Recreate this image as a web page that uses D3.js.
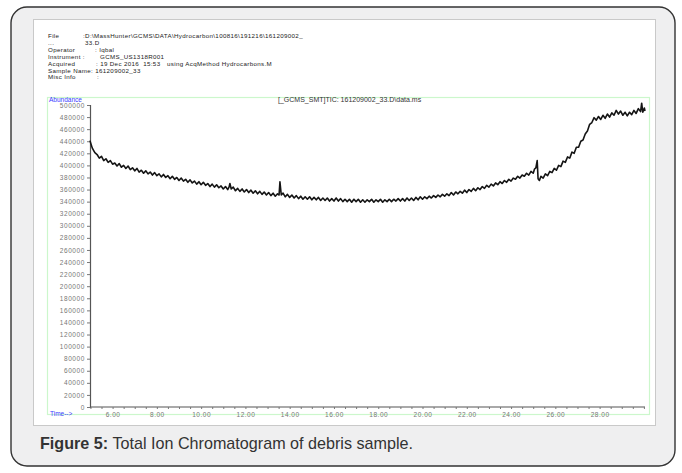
<!DOCTYPE html>
<html>
<head>
<meta charset="utf-8">
<script src="https://cdn.jsdelivr.net/npm/d3@7"></script>
<style>
  body{margin:0;background:#fff;}
  svg{display:block;font-family:"Liberation Sans",Arial,sans-serif;}
</style>
</head>
<body>
<svg id="tic" width="682" height="473"></svg>
<script>
// retention time (min)
var times=[4.98,5.02,5.08,5.14,5.20,5.30,5.40,5.50,5.60,5.70,5.80,5.90,6.00,6.10,6.20,6.30,6.40,6.50,6.60,6.70,6.80,6.90,
  7.00,7.10,7.20,7.30,7.40,7.50,7.60,7.70,7.80,7.90,8.00,8.10,8.20,8.30,8.40,8.50,8.60,8.70,8.80,8.90,
  9.00,9.10,9.20,9.30,9.40,9.50,9.60,9.70,9.80,9.90,10.00,10.10,10.20,10.30,10.40,10.50,10.60,10.70,10.80,10.90,
  11.00,11.10,11.20,11.26,11.30,11.36,11.45,11.55,11.65,11.75,11.85,11.95,12.05,12.15,12.25,12.35,12.45,12.55,12.65,12.75,12.85,12.95,
  13.05,13.15,13.25,13.35,13.45,13.52,13.56,13.62,13.70,13.80,13.90,14.00,14.10,14.20,14.30,14.40,14.50,14.60,14.70,14.80,14.90,
  15.00,15.10,15.20,15.30,15.40,15.50,15.60,15.70,15.80,15.90,16.00,16.10,16.20,16.30,16.40,16.50,16.60,16.70,16.80,16.90,
  17.00,17.10,17.20,17.30,17.40,17.50,17.60,17.70,17.80,17.90,18.00,18.10,18.20,18.30,18.40,18.50,18.60,18.70,18.80,18.90,
  19.00,19.10,19.20,19.30,19.40,19.50,19.60,19.70,19.80,19.90,20.00,20.10,20.20,20.30,20.40,20.50,20.60,20.70,20.80,20.90,
  21.00,21.10,21.20,21.30,21.40,21.50,21.60,21.70,21.80,21.90,22.00,22.10,22.20,22.30,22.40,22.50,22.60,22.70,22.80,22.90,
  23.00,23.10,23.20,23.30,23.40,23.50,23.60,23.70,23.80,23.90,24.00,24.10,24.20,24.30,24.40,24.50,24.60,24.70,24.80,24.90,
  25.00,25.06,25.12,25.18,25.22,25.28,25.35,25.45,25.55,25.65,25.75,25.85,25.95,26.05,26.15,26.25,26.35,26.45,26.55,26.65,26.75,26.85,26.95,
  27.05,27.15,27.25,27.35,27.45,27.55,27.65,27.75,27.85,27.95,28.05,28.15,28.25,28.35,28.45,28.55,28.65,28.75,28.85,28.95,
  29.05,29.15,29.25,29.35,29.45,29.55,29.65,29.75,29.85,29.90,29.95,30.02,30.05];

// abundance in thousands, same order as times
var abundanceK=[441,436,429,425,421,418,412,415,408,411,405,408,402,404,399,403,397,400,395,399,393,396,
  391,395,389,392,387,391,386,389,384,388,383,386,381,385,380,383,378,382,377,380,
  375,379,374,377,372,376,371,374,369,373,368,372,367,370,365,369,364,368,363,366,
  361,365,360,364,370,361,364,358,362,357,361,356,360,355,359,354,358,353,357,352,356,351,
  355,350,354,349,353,351,373,351,354,348,352,347,351,346,350,345,349,344,348,344,348,
  343,347,343,347,342,346,342,346,341,345,341,346,341,345,340,344,340,344,339,344,
  340,344,339,343,339,343,340,344,339,343,340,344,339,343,340,344,340,344,341,345,
  341,345,341,346,342,346,342,347,343,348,344,348,345,349,346,350,347,351,348,352,
  349,353,350,355,351,356,353,357,354,359,355,360,357,362,358,363,360,365,362,367,
  364,369,366,371,368,373,370,375,372,377,374,379,377,382,379,384,382,387,384,390,
  387,394,396,408,378,375,382,379,386,383,390,388,395,392,400,398,407,405,414,412,422,420,430,
  430,440,442,452,457,468,471,479,475,481,476,483,478,485,480,487,483,491,485,490,
  483,488,482,488,484,491,486,494,489,503,488,495,490];

var yTicks=[0,20000,40000,60000,80000,100000,120000,140000,160000,180000,200000,220000,240000,
  260000,280000,300000,320000,340000,360000,380000,400000,420000,440000,460000,480000,500000];
var xTicks=[6,8,10,12,14,16,18,20,22,24,26,28];

var headerLines=[
  {y:38, parts:[{x:48,t:"File"},{x:83,t:":D:\\MassHunter\\GCMS\\DATA\\Hydrocarbon\\100816\\191216\\161209002_"}]},
  {y:45, parts:[{x:48,t:"..."},{x:85,t:"33.D"}]},
  {y:52, parts:[{x:48,t:"Operator"},{x:95,t:": Iqbal"}]},
  {y:59, parts:[{x:48,t:"Instrument :"},{x:100,t:"GCMS_US1318R001"}]},
  {y:66, parts:[{x:48,t:"Acquired"},{x:96,t:": 19 Dec 2016  15:53"},{x:167,t:"using AcqMethod Hydrocarbons.M"}]},
  {y:72.5, parts:[{x:48,t:"Sample Name: 161209002_33"}]},
  {y:79, parts:[{x:48,t:"Misc Info"},{x:97,t:":"}]}
];

var svg=d3.select("#tic");

// outer card + white panel
svg.append("rect")
  .attr("x",11).attr("y",7).attr("width",664).attr("height",459)
  .attr("rx",16).attr("ry",16)
  .attr("fill","#efeff0").attr("stroke","#333").attr("stroke-width",1.4);
svg.append("rect")
  .attr("x",33.5).attr("y",19.5).attr("width",622).attr("height",406)
  .attr("fill","#fff").attr("stroke","#c9c9c9").attr("stroke-width",1);

// header block
headerLines.forEach(function(l){
  l.parts.forEach(function(p){
    svg.append("text")
      .attr("x",p.x).attr("y",l.y)
      .attr("font-size","6.2px").attr("fill","#1a1a1a")
      .attr("letter-spacing","0.35px")
      .style("white-space","pre")
      .text(p.t);
  });
});

// light green plot frame
svg.append("rect")
  .attr("x",47.5).attr("y",97.5).attr("width",602).attr("height",317)
  .attr("fill","none").attr("stroke","#ccf7cc").attr("stroke-width",1.2);

var x=d3.scaleLinear().domain([4.98,30.05]).range([90,645]);
var y=d3.scaleLinear().domain([0,500000]).range([407,105]);

svg.append("text")
  .attr("x",49).attr("y",102)
  .attr("font-size","6.5px").attr("fill","#3a3aff")
  .text("Abundance");
svg.append("text")
  .attr("x",278).attr("y",101.5)
  .attr("font-size","7px").attr("fill","#333")
  .text("[_GCMS_SMT]TIC: 161209002_33.D\\data.ms");
svg.append("text")
  .attr("x",50).attr("y",416)
  .attr("font-size","6.5px").attr("fill","#3a3aff")
  .text("Time-->");

// y axis
var yAxis=svg.append("g")
  .attr("transform","translate(90,0)")
  .call(d3.axisLeft(y).tickValues(yTicks).tickSize(3).tickPadding(2)
    .tickFormat(function(d){return d3.format("d")(d);}));
yAxis.select(".domain").attr("stroke","#555").attr("stroke-width",1.2);
yAxis.selectAll(".tick line").attr("stroke","#777");
yAxis.selectAll(".tick text")
  .attr("font-size","6.5px").attr("fill","#777")
  .attr("font-family","'Liberation Sans',Arial,sans-serif")
  .attr("letter-spacing","0.6px");

// x axis: minor ticks every half minute, labelled every 2 min
var minorTicks=d3.range(5,30.01,0.5);
var xAxis=svg.append("g")
  .attr("transform","translate(0,407)")
  .call(d3.axisBottom(x).tickValues(minorTicks).tickSize(2).tickPadding(3)
    .tickFormat(function(d){return xTicks.indexOf(d)>=0?d3.format(".2f")(d):"";}));
xAxis.select(".domain").attr("stroke","#555").attr("stroke-width",1.2)
  .attr("d","M90,0H645");
xAxis.selectAll(".tick line").attr("stroke","#777");
xAxis.selectAll(".tick text")
  .attr("font-size","6.5px").attr("fill","#777")
  .attr("font-family","'Liberation Sans',Arial,sans-serif")
  .attr("letter-spacing","0.5px");

// the TIC trace
var pts=times.map(function(t,i){return [t,abundanceK[i]*1000];});
var line=d3.line()
  .x(function(d){return x(d[0]);})
  .y(function(d){return y(d[1]);});
svg.append("path")
  .datum(pts)
  .attr("d",line)
  .attr("fill","none")
  .attr("stroke","#151515")
  .attr("stroke-width",1.6)
  .attr("stroke-linejoin","round");

// caption (squeezed a little to match the condensed face)
var cap=svg.append("text")
  .attr("transform","translate(40,449) scale(0.95,1)")
  .attr("font-size","17px").attr("fill","#333");
cap.append("tspan").attr("font-weight","bold").text("Figure 5:");
cap.append("tspan").text(" Total Ion Chromatogram of debris sample.");
</script>
</body>
</html>
